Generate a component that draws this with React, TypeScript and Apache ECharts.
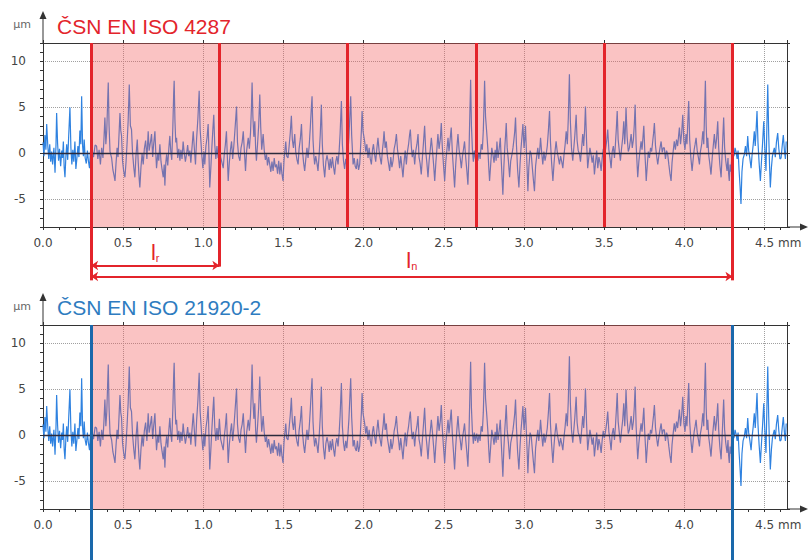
import React, { useEffect, useRef } from 'react';
import * as echarts from 'echarts';

// ---- data ----
const xMin = 0;
const xMax = 4.64;
const yMin = -8;
const yMax = 12;
const cutoffPositions = [0.3, 1.1, 1.9, 2.7, 3.5, 4.3]; // mm, sampling lengths lr
const evalStart = 0.3;
const evalEnd = 4.3;
const lrEnd = 1.1;
const titles = ['ČSN EN ISO 4287', 'ČSN EN ISO 21920-2'];
const yUnit = 'µm';
const xUnit = 'mm';
const bracketLabels = { lr: 'r', ln: 'n', le: 'e' };

// profile: [position mm, height µm]
const profile: [number, number][] = [
  [0.000,1.2],[0.006,-0.3],[0.012,2.0],[0.018,0.4],[0.023,3.2],[0.030,0.8],[0.036,-0.6],[0.042,1.0],[0.048,-0.9],[0.054,0.2],[0.060,-1.2],[0.068,0.6],[0.075,-2.1],[0.081,0.9],[0.085,4.4],[0.091,1.1],[0.097,-0.8],[0.103,0.5],[0.110,-1.4],[0.117,0.3],[0.122,-0.5],[0.127,1.3],[0.132,-1.5],[0.137,-2.6],[0.143,-0.2],[0.148,1.0],[0.154,-0.7],[0.160,1.8],[0.168,5.0],[0.174,0.6],[0.180,-1.2],[0.186,0.4],[0.192,-0.9],[0.199,1.3],[0.205,-1.7],[0.211,-0.6],[0.218,0.8],[0.224,-0.4],[0.230,2.5],[0.236,1.0],[0.241,6.2],[0.247,0.8],[0.252,-0.3],[0.257,1.5],[0.263,-0.5],[0.270,-1.1],[0.277,0.3],[0.283,-0.8],[0.290,-1.6],[0.296,0.2],
  [0.305,0.5],[0.315,-0.4],[0.325,0.9],[0.334,0.8],[0.342,-0.6],[0.350,0.4],[0.358,-1.2],[0.366,0.6],[0.374,-0.5],[0.380,1.5],[0.386,3.9],[0.392,1.0],[0.398,2.6],[0.403,5.5],[0.407,7.7],[0.412,3.0],[0.418,0.2],[0.428,-0.5],[0.436,-1.8],[0.443,-2.4],[0.449,-3.0],[0.455,-1.2],[0.462,0.6],[0.468,-0.4],[0.474,2.0],[0.480,4.4],[0.485,2.5],[0.490,1.9],[0.496,-0.8],[0.503,-1.9],[0.511,-2.6],[0.518,-0.9],[0.524,1.0],[0.531,3.5],[0.538,7.5],[0.545,3.0],[0.552,2.6],[0.558,0.2],[0.566,-1.5],[0.573,-2.6],[0.580,-0.2],[0.588,1.5],[0.594,-1.0],[0.600,-2.8],[0.604,-3.7],[0.611,-1.5],[0.618,0.0],[0.625,-1.2],[0.632,0.5],[0.640,1.4],[0.648,-0.6],[0.656,2.4],[0.662,0.3],[0.670,1.2],[0.677,2.1],[0.684,-0.4],[0.690,1.0],[0.698,2.4],[0.703,0.2],[0.708,-1.6],[0.716,0.0],[0.722,-0.8],[0.729,1.0],[0.736,-0.9],[0.743,-1.8],[0.750,-2.6],[0.756,-1.2],[0.760,-3.5],[0.766,-1.0],[0.771,-0.1],[0.778,-1.3],[0.785,0.6],[0.791,1.9],[0.797,0.2],[0.803,-0.7],[0.810,3.0],[0.815,6.5],[0.818,7.9],[0.823,3.5],[0.828,1.2],[0.833,1.7],[0.840,-0.5],[0.847,0.5],[0.854,-0.8],[0.860,0.4],[0.867,-0.6],[0.874,1.3],[0.880,0.2],[0.888,-0.9],[0.895,-0.1],[0.902,0.9],[0.909,-0.3],[0.916,0.3],[0.922,-1.0],[0.930,0.8],[0.937,2.4],[0.944,0.5],[0.951,-1.2],[0.958,1.6],[0.966,3.8],[0.974,6.8],[0.980,2.6],[0.985,1.3],[0.991,-0.3],[0.997,-1.6],[1.004,0.2],[1.009,-1.2],[1.016,0.8],[1.023,1.7],[1.030,3.2],[1.035,0.0],[1.040,-3.7],[1.046,-1.8],[1.053,0.6],[1.059,2.5],[1.065,4.2],[1.071,1.0],[1.078,-0.6],[1.085,0.8],[1.092,-0.5],[1.100,1.8],[1.108,-0.4],[1.116,-1.0],[1.124,-1.6],[1.130,-0.2],[1.137,0.9],[1.144,2.4],
  [1.150,-0.5],[1.155,-3.0],[1.162,-1.0],[1.169,0.4],[1.176,1.3],[1.183,-0.6],[1.190,0.8],[1.197,2.5],[1.202,3.8],[1.207,5.1],[1.213,1.2],[1.220,-0.3],[1.228,-0.8],[1.235,0.6],[1.242,1.2],[1.249,2.4],[1.256,0.2],[1.263,-1.9],[1.270,0.3],[1.280,1.7],[1.287,0.5],[1.294,2.2],[1.300,5.0],[1.304,7.7],[1.309,4.0],[1.315,1.8],[1.321,3.5],[1.326,0.6],[1.331,-0.8],[1.338,1.0],[1.345,3.0],[1.352,6.4],[1.358,2.8],[1.364,0.4],[1.373,2.1],[1.380,0.3],[1.387,-0.7],[1.394,-0.1],[1.400,-1.3],[1.407,-0.4],[1.414,-1.2],[1.421,-2.0],[1.428,-0.9],[1.435,-1.9],[1.442,-0.5],[1.449,-1.5],[1.456,-1.2],[1.463,-2.2],[1.470,-0.8],[1.477,-2.3],[1.484,-1.0],[1.490,-2.2],[1.497,-3.0],[1.503,-0.8],[1.509,0.4],[1.514,1.3],[1.520,-0.3],[1.528,-0.5],[1.535,0.8],[1.542,2.2],[1.549,4.1],[1.555,1.5],[1.562,0.6],[1.570,2.1],[1.576,0.2],[1.584,-0.7],[1.591,-1.2],[1.597,0.5],[1.605,1.6],[1.612,3.2],[1.618,0.4],[1.625,-1.0],[1.632,-1.9],[1.639,-0.6],[1.646,0.6],[1.653,-0.5],[1.660,0.8],[1.667,2.8],[1.673,4.8],[1.678,6.2],[1.684,1.5],[1.690,-0.4],[1.694,-1.2],[1.701,-0.3],[1.708,-1.0],[1.715,-1.9],[1.722,-0.2],[1.729,2.0],[1.736,5.3],[1.742,1.0],[1.749,-1.3],[1.757,-2.6],[1.764,-0.9],[1.771,-0.2],[1.778,-0.8],[1.785,-1.8],[1.791,-0.6],[1.798,-1.6],[1.805,-0.4],[1.812,-1.5],[1.819,-2.3],[1.826,-0.9],[1.833,-0.3],[1.840,-1.2],[1.847,0.3],[1.853,2.2],[1.861,5.7],[1.867,1.0],[1.874,-0.8],[1.881,-1.7],[1.888,-0.6],[1.895,-1.4],[1.902,0.2],[1.908,1.8],[1.914,4.2],[1.919,6.2],[1.925,2.0],[1.934,-1.2],[1.941,-0.5],[1.947,-1.4],[1.954,-1.7],[1.961,-0.6],[1.968,-1.8],[1.975,-1.2],[1.981,0.8],[1.986,2.6],[1.990,4.6],[1.996,2.4],[2.006,1.3],[2.013,0.2],[2.020,1.0],[2.027,-0.5],[2.034,0.6],[2.041,-0.6],[2.048,-1.2],[2.055,0.4],[2.061,1.0],[2.068,-0.1],[2.075,-0.9],[2.082,0.5],[2.089,1.7],[2.096,0.3],[2.103,-0.5],[2.110,-1.2],[2.117,0.4],[2.122,1.2],[2.127,2.4],[2.134,0.6],[2.141,1.3],[2.148,-0.3],[2.155,-1.1],[2.162,-1.9],[2.169,-0.4],[2.176,-1.5],[2.183,-0.8],[2.190,0.5],[2.197,1.1],[2.204,2.1],[2.211,0.4],[2.218,-0.6],[2.224,-1.6],[2.231,-0.3],[2.238,-1.4],[2.245,-2.6],[2.252,-0.9],[2.259,0.3],[2.266,-1.2],[2.273,0.2],[2.280,1.0],[2.286,2.0],[2.291,2.6],[2.297,0.8],
  [2.303,-0.4],[2.310,0.4],[2.318,-1.2],[2.325,0.3],[2.332,1.0],[2.339,2.1],[2.345,-0.4],[2.352,-1.1],[2.359,-2.3],[2.366,-0.5],[2.373,1.2],[2.380,3.0],[2.387,0.2],[2.394,-1.0],[2.401,-2.6],[2.408,-0.8],[2.415,0.4],[2.422,1.7],[2.429,0.3],[2.436,-1.2],[2.443,-3.0],[2.450,-1.0],[2.457,0.6],[2.463,2.1],[2.470,0.5],[2.478,1.6],[2.484,3.3],[2.490,0.8],[2.497,-1.1],[2.505,-3.0],[2.512,-0.9],[2.519,0.4],[2.526,1.7],[2.532,0.2],[2.539,1.5],[2.546,2.8],[2.553,0.1],[2.560,-1.8],[2.567,-3.7],[2.574,-1.2],[2.581,0.6],[2.588,2.1],[2.595,0.4],[2.602,-0.5],[2.609,-1.6],[2.616,-0.3],[2.622,0.4],[2.629,1.3],[2.636,-0.4],[2.643,-1.8],[2.650,-3.4],[2.656,-0.5],[2.661,3.5],[2.667,8.0],[2.672,3.0],[2.678,0.4],[2.684,-0.9],[2.690,0.3],[2.697,-0.6],[2.705,0.2],[2.712,-0.8],[2.719,0.1],[2.726,-0.6],[2.733,1.0],[2.740,0.4],[2.746,2.5],[2.750,5.0],[2.754,7.9],[2.760,4.0],[2.768,2.1],[2.775,0.3],[2.780,-1.5],[2.785,-3.0],[2.792,-1.2],[2.799,0.6],[2.806,-0.1],[2.813,-1.0],[2.820,0.4],[2.826,-0.8],[2.831,1.3],[2.838,-0.5],[2.845,0.5],[2.852,1.7],[2.858,-0.8],[2.863,-2.6],[2.868,-4.5],[2.874,-1.5],[2.880,0.6],[2.885,2.0],[2.889,3.3],[2.895,0.6],[2.903,-0.9],[2.910,-2.6],[2.917,-0.8],[2.924,-0.2],[2.931,0.6],[2.937,1.5],[2.942,2.4],[2.947,3.9],[2.953,0.8],[2.960,-1.8],[2.968,-3.7],[2.975,-1.2],[2.981,0.5],[2.987,1.8],[2.993,3.2],[3.000,0.6],[3.005,1.6],[3.009,3.0],[3.015,0.2],[3.020,-2.0],[3.024,-4.1],[3.030,-1.5],[3.038,0.3],[3.045,-0.1],[3.052,-1.6],[3.058,-2.8],[3.065,-4.1],[3.072,-1.4],[3.079,-0.3],[3.086,0.6],[3.092,-0.6],[3.098,0.4],[3.103,1.7],[3.110,0.1],[3.117,-1.2],[3.124,0.2],[3.131,-0.8],[3.138,-0.1],[3.145,0.8],[3.152,2.5],[3.159,4.6],[3.165,1.2],[3.172,-1.0],[3.180,-3.0],[3.187,-1.1],[3.193,0.2],[3.200,1.3],[3.207,0.2],[3.214,-0.5],[3.221,-1.2],[3.228,-0.3],[3.235,-0.9],[3.242,-1.6],[3.249,-0.2],[3.256,0.9],[3.263,2.4],[3.270,1.0],[3.276,3.8],[3.283,8.6],[3.289,3.5],[3.296,0.6],[3.304,-0.8],[3.310,0.5],[3.317,2.0],[3.325,4.2],[3.331,1.4],[3.338,0.3],[3.346,-0.1],[3.352,-0.9],[3.359,0.5],[3.366,2.1],[3.372,0.8],[3.378,2.6],[3.383,5.1],[3.390,1.3],[3.397,-1.6],[3.404,-0.4],[3.411,0.6],[3.418,-0.1],[3.425,-1.0],[3.432,-0.2],[3.439,-2.3],[3.446,-1.0],[3.453,0.3],[3.460,-1.6],[3.467,-0.4],[3.474,-1.0],[3.481,-1.9],[3.487,-0.6],[3.494,0.5],
  [3.501,-0.3],[3.508,0.4],[3.515,1.3],[3.522,2.6],[3.529,0.4],[3.536,-0.5],[3.543,-1.6],[3.550,0.2],[3.557,0.8],[3.564,-0.5],[3.570,1.0],[3.576,2.8],[3.581,4.6],[3.587,1.5],[3.594,0.3],[3.601,-0.8],[3.608,0.5],[3.615,1.6],[3.622,3.5],[3.628,1.0],[3.632,2.6],[3.636,5.0],[3.643,1.8],[3.650,0.2],[3.657,0.6],[3.663,1.4],[3.668,2.1],[3.675,0.6],[3.682,1.5],[3.688,3.2],[3.693,5.3],[3.699,1.0],[3.704,-0.8],[3.709,-2.6],[3.716,-0.9],[3.723,0.3],[3.730,1.3],[3.736,0.4],[3.742,1.8],[3.747,3.0],[3.753,0.3],[3.758,-1.4],[3.762,-3.0],[3.769,-1.2],[3.775,0.2],[3.782,-0.5],[3.789,0.6],[3.796,0.2],[3.803,1.4],[3.808,2.2],[3.813,3.3],[3.820,0.8],[3.827,-0.3],[3.834,-1.2],[3.841,-0.2],[3.848,0.6],[3.855,1.3],[3.862,0.1],[3.868,0.6],[3.875,0.6],[3.882,-0.6],[3.889,0.3],[3.896,-0.1],[3.903,-1.2],[3.910,-2.2],[3.917,-3.0],[3.923,-1.0],[3.930,0.2],[3.937,1.3],[3.944,0.4],[3.951,1.5],[3.958,0.8],[3.964,1.9],[3.969,2.8],[3.976,1.0],[3.983,2.2],[3.990,4.2],[3.997,1.3],[4.004,0.4],[4.010,2.1],[4.016,1.0],[4.021,3.2],[4.027,5.7],[4.033,1.5],[4.040,-0.4],[4.048,-1.9],[4.055,-0.6],[4.061,0.4],[4.067,1.0],[4.073,1.7],[4.080,0.3],[4.087,-0.4],[4.094,-1.2],[4.100,0.2],[4.108,1.0],[4.115,2.4],[4.121,1.0],[4.126,4.5],[4.131,7.9],[4.136,3.0],[4.141,0.6],[4.146,1.7],[4.152,-0.2],[4.159,-1.2],[4.166,-2.3],[4.173,-0.6],[4.180,0.8],[4.187,2.1],[4.194,0.5],[4.201,1.6],[4.208,3.5],[4.214,0.6],[4.221,-1.2],[4.229,-2.6],[4.235,-0.3],[4.240,1.8],[4.245,3.9],[4.251,0.6],[4.258,-0.8],[4.266,-1.9],[4.272,-0.5],[4.276,-2.2],[4.280,-3.0],[4.285,-1.2],[4.290,-2.0],[4.296,-0.4],[4.302,0.5],[4.309,-0.3],[4.316,0.6],[4.322,0.2],[4.329,-0.6],[4.335,0.3],[4.341,-1.8],[4.347,-3.5],[4.353,-5.5],[4.359,-2.0],[4.366,-0.6],[4.374,-0.1],[4.381,0.8],[4.388,-0.3],[4.395,1.9],[4.401,0.3],[4.408,-0.5],[4.416,-1.6],[4.422,-0.2],[4.429,0.9],[4.436,2.4],[4.442,0.8],[4.448,2.8],[4.453,4.6],[4.459,1.2],[4.466,-1.0],[4.474,-3.0],[4.481,-0.8],[4.488,1.2],[4.495,3.5],[4.501,0.8],[4.505,-0.6],[4.509,-1.9],[4.514,2.5],[4.520,7.5],[4.526,2.0],[4.531,-1.2],[4.536,-3.7],[4.543,-1.5],[4.549,-0.3],[4.555,0.2],[4.561,0.6],[4.567,-0.4],[4.574,1.2],[4.582,2.2],[4.589,0.5],[4.596,-0.6],[4.603,-0.5],[4.610,0.8],[4.617,2.0],[4.624,0.3],[4.630,-0.6],[4.635,1.3]
];

// ---- styling ----
const RED = '#e3242b';
const BLUE = '#1a68ab';
const TITLE_BLUE = '#2e7cc0';
const AX = '#333';
const LABEL = '#444';
const AXFONT = 'DejaVu Sans';
const TFONT = 'Liberation Sans';
const arrowX = 'path://M3.5,0L7,8L4,8L4,21L3,21L3,8L0,8Z';
const arrowY = 'path://M3.5,0L7,8L4,8L4,32L3,32L3,8L0,8Z';

const isMult = (v: number, step: number) => Math.abs(v / step - Math.round(v / step)) < 1e-6;

function mainX(gridIndex: number) {
  return {
    type: 'value', gridIndex, min: xMin, max: xMax, interval: 0.1, position: 'bottom',
    name: xUnit, nameLocation: 'end', nameGap: -9,
    nameTextStyle: { align: 'left', verticalAlign: 'top', padding: [10, 0, 0, 0], color: LABEL, fontSize: 12, fontFamily: AXFONT },
    axisLine: { onZero: false, lineStyle: { color: AX, width: 1 }, symbol: ['none', arrowX], symbolSize: [7, 21], symbolOffset: [0, 10.5] },
    axisTick: { show: true, length: 3, lineStyle: { color: AX } },
    axisLabel: { margin: 10, color: LABEL, fontSize: 12, fontFamily: AXFONT, showMaxLabel: false, showMinLabel: true,
      formatter: (v: number) => (isMult(v, 0.5) && v <= 4.5 + 1e-6 ? v.toFixed(1) : '') },
    splitLine: { show: false },
  };
}
function borderX(gridIndex: number) {
  return {
    type: 'value', gridIndex, min: xMin, max: xMax, interval: 0.5, position: 'top',
    axisLine: { onZero: false, lineStyle: { color: AX, width: 1 } },
    axisTick: { show: true, length: 3, lineStyle: { color: AX } },
    axisLabel: { show: false },
    splitLine: { show: true, lineStyle: { color: '#a0a0a0', type: 'dotted', width: 1 } },
  };
}
function mainY(gridIndex: number) {
  return {
    type: 'value', gridIndex, min: yMin, max: yMax, interval: 1, position: 'left',
    name: yUnit, nameLocation: 'end', nameGap: 19,
    nameTextStyle: { align: 'right', verticalAlign: 'middle', padding: [0, 12, 0, 0], color: '#666', fontSize: 11, fontFamily: AXFONT },
    axisLine: { onZero: false, lineStyle: { color: AX, width: 1 }, symbol: ['none', arrowY], symbolSize: [7, 32], symbolOffset: [0, 16] },
    axisTick: { show: true, length: 3, lineStyle: { color: AX } },
    axisLabel: { margin: 17, color: LABEL, fontSize: 12, fontFamily: AXFONT,
      formatter: (v: number) => (isMult(v, 5) ? String(v) : '') },
    splitLine: { show: false },
  };
}
function borderY(gridIndex: number) {
  return {
    type: 'value', gridIndex, min: yMin, max: yMax, position: 'right',
    axisLine: { onZero: false, lineStyle: { color: AX, width: 1 } },
    axisTick: { show: true, length: 3, lineStyle: { color: AX } },
    axisLabel: { show: false },
    splitLine: { show: true, lineStyle: { color: '#a0a0a0', type: 'dotted', width: 1 } },
  };
}
const hiddenX = (gridIndex: number) => ({ type: 'value', gridIndex, min: xMin, max: xMax, show: false });
const hiddenY = (gridIndex: number) => ({ type: 'value', gridIndex, min: 0, max: 1, inverse: true, show: false });

function profileSeries(xi: number, yi: number) {
  return {
    type: 'line', xAxisIndex: xi, yAxisIndex: yi, data: profile, showSymbol: false, symbol: 'none',
    lineStyle: { color: '#2f82e0', width: 1.2 }, z: 2, silent: true, clip: true,
  };
}
function overlaySeries(xi: number, yi: number, color: string, positions: number[]) {
  return {
    type: 'line', xAxisIndex: xi, yAxisIndex: yi, data: [], silent: true, z: 4,
    markArea: {
      z: 3, silent: true, itemStyle: { color: 'rgba(240,90,90,0.36)' },
      data: [[{ xAxis: evalStart }, { xAxis: evalEnd }]],
    },
    markLine: {
      z: 6, silent: true, symbol: ['none', 'none'], label: { show: false },
      data: [
        { yAxis: 0, lineStyle: { color: '#2b2b3c', width: 1.3, type: 'solid' } },
        ...positions.map((v) => ({ xAxis: v, lineStyle: { color, width: 3, type: 'solid' } })),
      ],
    },
  };
}
function subLabel(sub: string, color: string, distance: number) {
  return {
    show: true, position: 'middle', distance, color,
    formatter: `{a|l}{b|${sub}}`,
    rich: {
      a: { fontSize: 22, lineHeight: 22, fontFamily: TFONT, color, verticalAlign: 'bottom' },
      b: { fontSize: 11, lineHeight: 11, fontFamily: TFONT, color, verticalAlign: 'bottom' },
    },
  };
}

const lrLevel = 0.7;
const lnLevel = 0.9;

function bracketTop() {
  const ext = (x: number, to: number) => [
    { coord: [x, 0], lineStyle: { color: RED, width: 3, type: 'solid' } },
    { coord: [x, to] },
  ];
  return {
    type: 'line', xAxisIndex: 2, yAxisIndex: 2, data: [], silent: true,
    markLine: {
      z: 6, silent: true, symbol: ['none', 'none'], symbolSize: 7, label: { show: false },
      data: [
        ext(evalStart, 0.97),
        ext(lrEnd, lrLevel + 0.02),
        ext(evalEnd, 0.97),
        [
          { coord: [evalStart, lrLevel], symbol: 'arrow', lineStyle: { color: RED, width: 2, type: 'solid' }, label: subLabel(bracketLabels.lr, RED, 2) },
          { coord: [lrEnd, lrLevel], symbol: 'arrow' },
        ],
        [
          { coord: [evalStart, lnLevel], symbol: 'arrow', lineStyle: { color: RED, width: 2, type: 'solid' }, label: subLabel(bracketLabels.ln, RED, 5) },
          { coord: [evalEnd, lnLevel], symbol: 'arrow' },
        ],
      ],
    },
  };
}
function bracketBottom() {
  const ext = (x: number) => [
    { coord: [x, 0], lineStyle: { color: BLUE, width: 3, type: 'solid' } },
    { coord: [x, 1] },
  ];
  return {
    type: 'line', xAxisIndex: 5, yAxisIndex: 5, data: [], silent: true,
    markLine: {
      z: 6, silent: true, symbol: ['none', 'none'], label: { show: false },
      data: [
        ext(evalStart),
        ext(evalEnd),
        [
          { coord: [evalStart, 1], lineStyle: { opacity: 0 }, label: subLabel(bracketLabels.le, TITLE_BLUE, 5) },
          { coord: [evalEnd, 1] },
        ],
      ],
    },
  };
}

export default function App() {
  const ref = useRef<HTMLDivElement>(null);
  useEffect(() => {
    if (!ref.current) return;
    const chart = echarts.init(ref.current, null, { renderer: 'svg' });
    chart.setOption({
      animation: false,
      backgroundColor: '#ffffff',
      title: [
        { text: titles[0], left: 57, top: 16, padding: 0, textStyle: { color: RED, fontSize: 21, fontWeight: 'normal', fontFamily: TFONT } },
        { text: titles[1], left: 57, top: 297, padding: 0, textStyle: { color: TITLE_BLUE, fontSize: 21, fontWeight: 'normal', fontFamily: TFONT } },
      ],
      grid: [
        { left: 43, top: 43, width: 744, height: 184 },
        { left: 43, top: 227, width: 744, height: 55 },
        { left: 43, top: 325, width: 744, height: 184 },
        { left: 43, top: 509, width: 744, height: 51 },
      ],
      xAxis: [mainX(0), borderX(0), hiddenX(1), mainX(2), borderX(2), hiddenX(3)],
      yAxis: [mainY(0), borderY(0), hiddenY(1), mainY(2), borderY(2), hiddenY(3)],
      series: [
        profileSeries(0, 0),
        overlaySeries(0, 0, RED, cutoffPositions),
        bracketTop(),
        profileSeries(3, 3),
        overlaySeries(3, 3, BLUE, [evalStart, evalEnd]),
        bracketBottom(),
      ],
    });
    return () => chart.dispose();
  }, []);
  return <div ref={ref} style={{ position: 'absolute', left: 0, top: 0, width: 811, height: 560 }} />;
}
